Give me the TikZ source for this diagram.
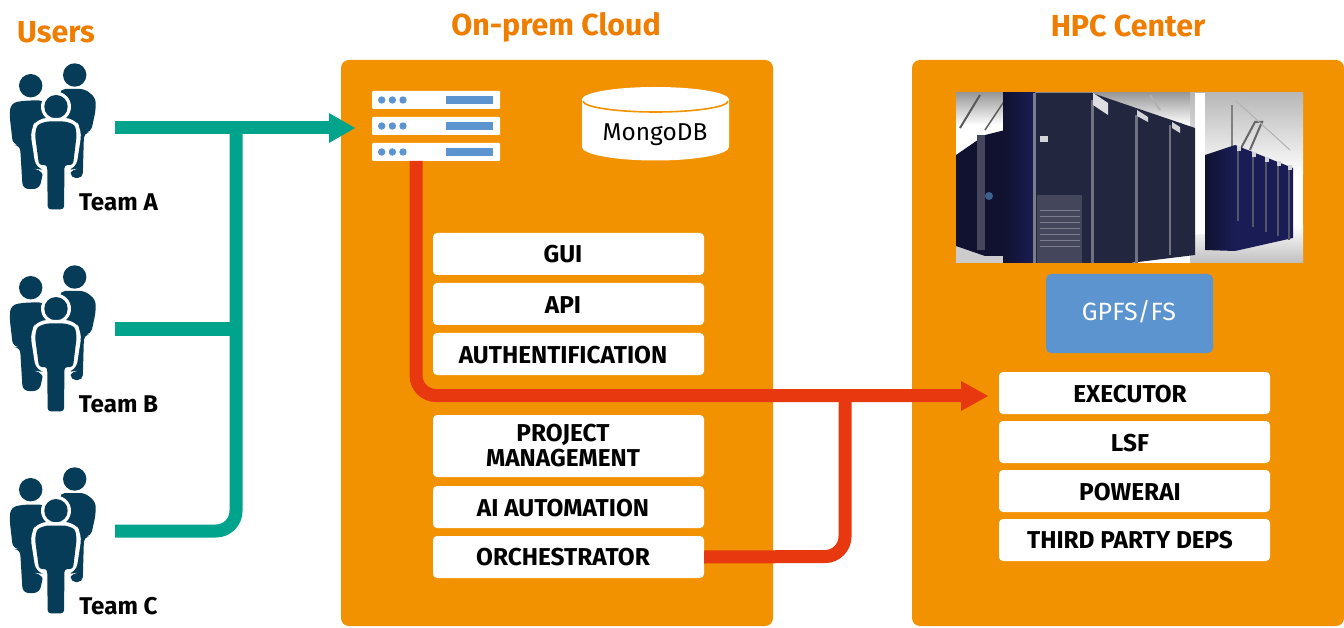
\documentclass[tikz,border=0pt]{standalone}
\usepackage{fontspec}
\setmainfont{Fira Sans}
\usetikzlibrary{arrows.meta,shapes.geometric}
\definecolor{panelor}{HTML}{F39200}
\definecolor{titleor}{HTML}{EF7D00}
\definecolor{grn}{HTML}{00A48D}
\definecolor{redl}{HTML}{E8380F}
\definecolor{blu}{HTML}{5B94CF}
\definecolor{navy}{HTML}{063C57}
\definecolor{rackA}{HTML}{23263F}
\definecolor{rackB}{HTML}{10122F}
\definecolor{rackC}{HTML}{1A1D55}
\tikzset{
  x=1pt,y=-1pt,
  panel/.style={fill=panelor,rounded corners=8pt},
  wbox/.style={fill=white,rounded corners=4pt,minimum width=271pt,anchor=center,inner sep=0pt},
  wtext/.style={inner sep=0pt,align=center,font=\fontsize{24.4}{25}\selectfont\bfseries,text=black},
  title/.style={text=titleor,font=\fontsize{30.4}{32}\selectfont\bfseries,inner sep=0pt},
  teamlabel/.style={text=black,font=\fontsize{24.2}{26}\selectfont\bfseries,inner sep=0pt},
  greenline/.style={draw=grn,line width=13pt,rounded corners=20pt},
  redline/.style={draw=redl,line width=13pt,rounded corners=20pt},
  srv/.style={fill=white,rounded corners=1pt},
  people/.pic={
    \fill[navy] (30.7,85.7) circle[radius=11.7];
    \fill[navy] (74.7,75) circle[radius=11.7];
    \fill[navy,rounded corners=6pt] (22.7,189) -- (20,145) -- (13,145) -- (9.5,115) -- (11,103) -- (25,100.5) -- (45,100.5) -- (50,140) -- (39.5,189) -- cycle;
    \fill[navy,rounded corners=5pt] (60,89) -- (85,89) -- (95.7,98) -- (95.7,110) -- (91,132) -- (84,133) -- (82.7,178) -- (70.7,178) -- (70,140) -- (60,115) -- cycle;
    \fill[white] (56,106.7) circle[radius=15];
    \fill[navy] (56,106.7) circle[radius=11.7];
    \fill[white,rounded corners=9pt] (44,214) -- (44,170) -- (36,169) -- (30,130) -- (38,118) -- (74,118) -- (82,130) -- (76,169) -- (68,170) -- (68,214) -- cycle;
    \fill[navy,rounded corners=3pt] (47.7,209.3) -- (47.2,165) -- (39,165) -- (35,135) -- (37,125) -- (46,121.5) -- (66,121.5) -- (75,125) -- (76.7,135) -- (73,165) -- (64.5,165) -- (64,209.3) -- cycle;
  },
  srvrow/.pic={
    \fill[srv] (372,0) rectangle (500,18);
    \foreach \d in {381.7,392.4,403}{\fill[blu] (\d,9) circle[radius=3.7];}
    \fill[blu] (445.7,5) rectangle (493,13);
  },
}
\begin{document}
\begin{tikzpicture}
\useasboundingbox (0,0) rectangle (1344,628);
\fill[white] (0,0) rectangle (1344,628);
% titles
\node[title] (tUsers) at (56,32) {Users};
\node[title] (tCloud) at (556,27) {On-prem Cloud};
\node[title] (tHPC) at (1128,26) {HPC Center};
% panels
\path[panel] (341,60) rectangle (773,626);
\path[panel] (912,60) rectangle (1344,626);
% people
\pic at (0,0) {people};
\pic at (0,202) {people};
\pic at (0,404) {people};
\node[teamlabel] (teamA) at (118.5,202.5) {Team A};
\node[teamlabel] (teamB) at (118.5,404.5) {Team B};
\node[teamlabel] (teamC) at (118.5,606.5) {Team C};
% server stack
\pic at (0,91) {srvrow};
\pic at (0,117) {srvrow};
\pic at (0,143) {srvrow};
\coordinate (srvIn) at (355,128);
\coordinate (srvOut) at (416,161);
% Mongo
\fill[white] (582,99.5) -- (582,147) arc[start angle=180,end angle=0,x radius=73.5,y radius=13.5] -- (729,99.5) -- cycle;
\fill[white] (655.5,99.5) ellipse[x radius=73.5,y radius=12.5];
\draw[panelor,line width=1.6pt] (583,101) arc[start angle=180,end angle=0,x radius=72.5,y radius=11];
\node[inner sep=0pt,text=black,font=\fontsize{24.4}{26}\selectfont] (mongo) at (655,135) {MongoDB};
% left boxes
\node[wbox,minimum height=42pt] (gui) at (568.5,254) {};
\node[wbox,minimum height=42pt] (api) at (568.5,304) {};
\node[wbox,minimum height=42pt] (auth) at (568.5,354) {};
\node[wbox,minimum height=62pt] (pm) at (568.5,446) {};
\node[wbox,minimum height=42pt] (ai) at (568.5,507) {};
\node[wbox,minimum height=42pt] (orch) at (568.5,557) {};
\node[wtext] (guiT) at (563,254.5) {GUI};
\node[wtext] (apiT) at (563,305) {API};
\node[wtext] (authT) at (563,355) {AUTHENTIFICATION};
\node[wtext] (pmT) at (563,445.5) {PROJECT\\MANAGEMENT};
\node[wtext] (aiT) at (563,508) {AI AUTOMATION};
\node[wtext] (orchT) at (563,557) {ORCHESTRATOR};
% right boxes
\node[wbox,minimum height=42pt] (exec) at (1134.5,393) {};
\node[wbox,minimum height=42pt] (lsf) at (1134.5,442) {};
\node[wbox,minimum height=42pt] (pow) at (1134.5,491) {};
\node[wbox,minimum height=42pt] (third) at (1134.5,540) {};
\node[wtext] (execT) at (1130,394) {EXECUTOR};
\node[wtext] (lsfT) at (1130,443) {LSF};
\node[wtext] (powT) at (1130,492) {POWERAI};
\node[wtext] (thirdT) at (1130,540) {THIRD PARTY DEPS};
\node[fill=blu,rounded corners=5pt,minimum width=167pt,minimum height=79pt,inner sep=0pt] (gpfs) at (1129.5,313.5) {};
\node[inner sep=0pt,text=white,font=\fontsize{25}{27}\selectfont] (gpfsT) at (1129,312) {GPFS/FS};
% photo
\begin{scope}
\clip (956,93) rectangle (1303,263);
\fill[white] (956,93) rectangle (1303,263);
\shade[top color=white!72!black,bottom color=white] (1190,93) rectangle (1303,175);
\shade[top color=white!60!black,bottom color=white] (956,93) rectangle (1190,125);
\draw[gray!70!black,line width=2pt] (960,128) -- (980,95);
\draw[gray!70!black,line width=1.5pt] (985,130) -- (1005,100);
\draw[gray!60,line width=2pt] (1150,95) -- (1160,110);
\draw[gray,line width=2pt] (1232,105) -- (1232,150);
\draw[gray!80!black,line width=2pt] (1240,150) -- (1255,122) -- (1262,122) -- (1250,150);
\draw[gray!60,line width=1pt] (1235,100) -- (1290,150);
\fill[white] (1195,93) rectangle (1205,263);
\shade[top color=white,bottom color=white!75!black] (1190,235) -- (1303,225) -- (1303,263) -- (1190,263) -- cycle;
\fill[white!80!black] (956,245) rectangle (1003,263);
% left rack background
\fill[rackB] (956,155) -- (985,135) -- (1005,130) -- (1005,256) -- (985,256) -- (956,246) -- cycle;
\fill[white!22!rackB] (977,135) rectangle (985,250);
\fill[blu!60!rackB] (989,196) circle[radius=4];
% main rack
\shade[left color=rackB,right color=rackC] (1003,93) rectangle (1035,263);
\fill[rackA] (1035,93) -- (1092,93) -- (1195,128) -- (1195,255) -- (1130,263) -- (1035,263) -- cycle;
\fill[white!40!rackA] (1033,93) rectangle (1036,263);
\fill[white!35!rackA] (1091,100) rectangle (1094,263);
\fill[white!35!rackA] (1135,115) rectangle (1138,263);
\fill[white!35!rackA] (1169,125) rectangle (1171,255);
\fill[white!85!rackA] (1093,93) -- (1108,103) -- (1108,115) -- (1093,105) -- cycle;
\fill[white!80!rackA] (1137,110) -- (1148,117) -- (1148,122) -- (1137,116) -- cycle;
\fill[white!80!rackA] (1172,122) -- (1180,127) -- (1180,133) -- (1172,128) -- cycle;
\fill[white!15!rackA] (1037,195) rectangle (1082,263);
\foreach \yy in {210,216,222,228,234,240,246}{\draw[white!40!rackA,line width=0.7pt] (1040,\yy) -- (1080,\yy);}
\fill[white!80!rackA] (1040,136) rectangle (1048,142);
% right rack
\shade[left color=rackB,right color=rackC] (1205,155) -- (1235,145) -- (1235,251) -- (1205,250) -- cycle;
\fill[rackC] (1235,145) -- (1293,168) -- (1293,238) -- (1235,251) -- cycle;
\foreach \xx/\yy in {1237/146,1252/152,1265/157,1277/161,1288/165}{
  \fill[white!80!rackA] (\xx,\yy) rectangle +(4,5);
  \fill[white!22!rackA] (\xx,\yy+5) rectangle +(1.5,70);
}
\end{scope}
% connectors
\coordinate (gA) at (115,128);
\coordinate (gB) at (115,329);
\coordinate (gC) at (115,531);
\coordinate (gJ) at (236,128);
\coordinate (gJb) at (236,329);
\draw[greenline] (gA) -- (330,128);
\fill[grn] (329,113) -- (srvIn) -- (329,143) -- cycle;
\draw[greenline] (gC) -- (236,531) -- (gJ);
\draw[greenline] (gB) -- (gJb);
\coordinate (rJ) at (845,395);
\coordinate (execIn) at (988,396);
\draw[redline] (srvOut) -- (416,395.5) -- (965,395.5);
\fill[redl] (961,381) -- (execIn) -- (961,411) -- cycle;
\draw[redline] (orch.east) -- (845,556.5) -- (845,395.5);
\end{tikzpicture}
\end{document}
